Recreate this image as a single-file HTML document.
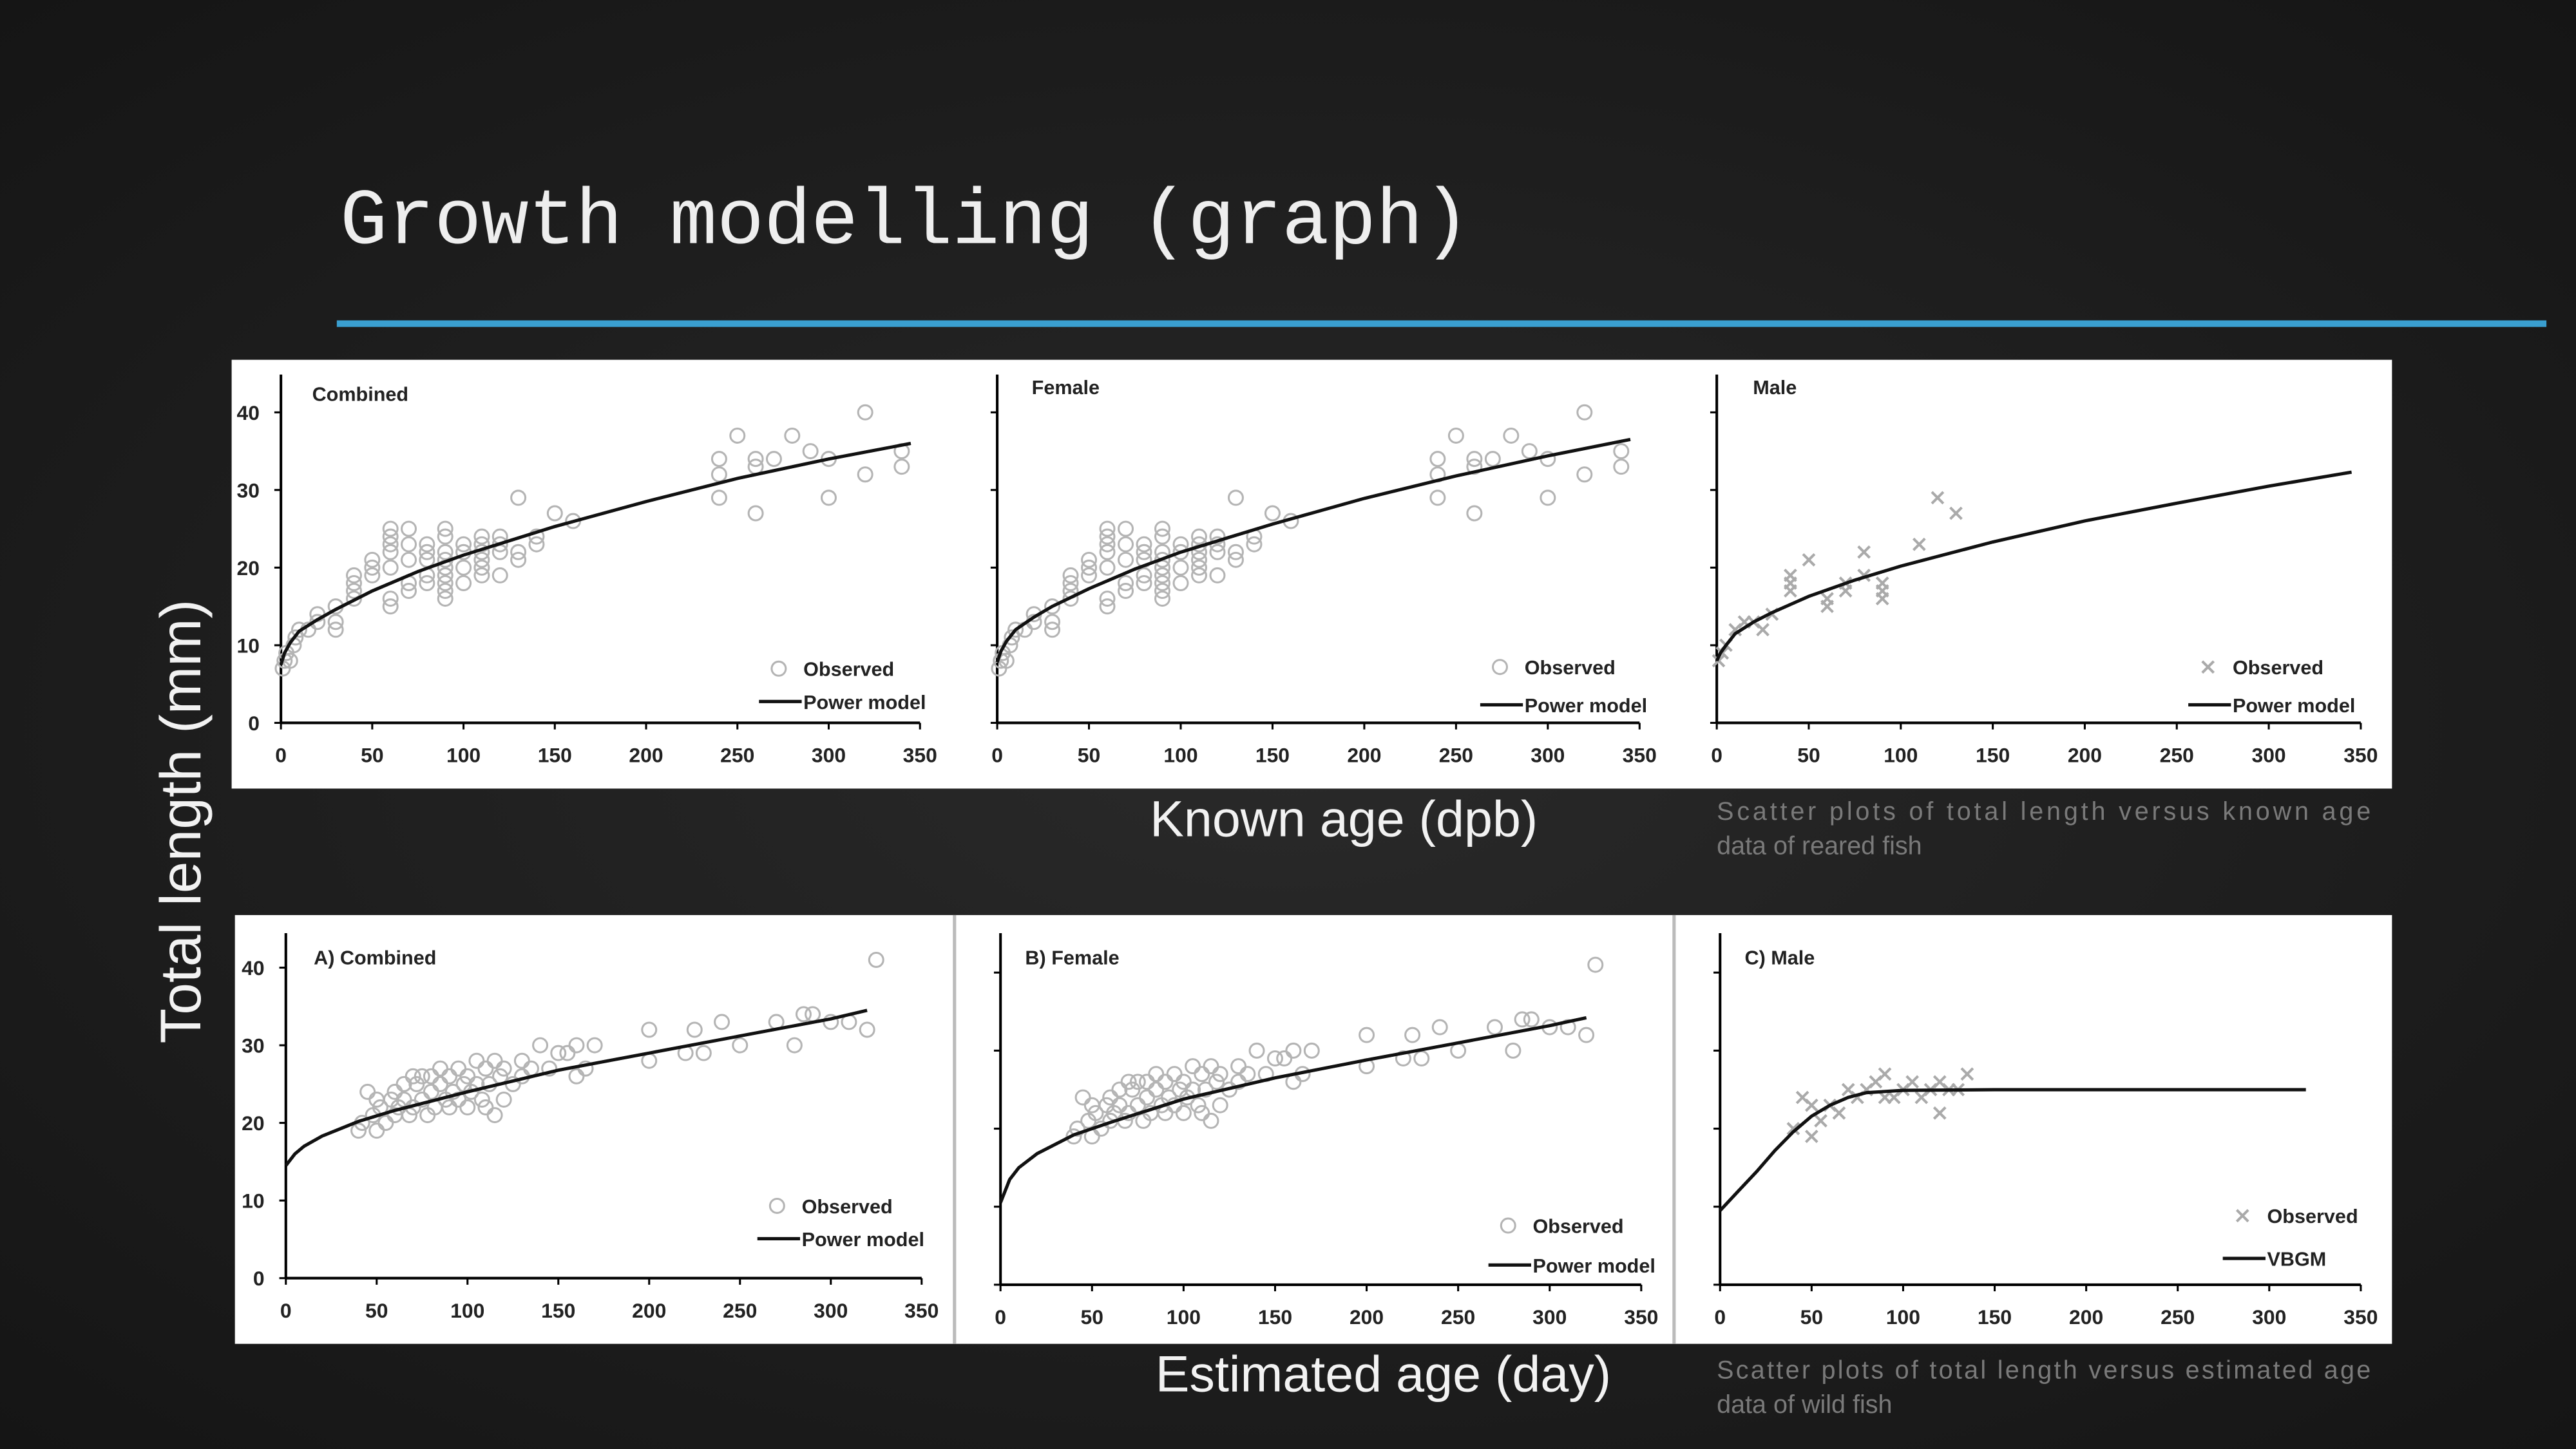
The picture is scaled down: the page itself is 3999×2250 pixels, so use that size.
<!DOCTYPE html>
<html><head><meta charset="utf-8"><style>
html,body{margin:0;padding:0;background:#1e1e1e;}
svg{display:block;}
text{font-family:"Liberation Sans",sans-serif;}
</style></head><body>
<svg id="s" width="3999" height="2250" viewBox="0 0 1568 882" preserveAspectRatio="none" xmlns="http://www.w3.org/2000/svg">
<defs><radialGradient id="bg" cx="50%" cy="50%" r="70%"><stop offset="0" stop-color="#2a2a2a"/><stop offset="1" stop-color="#151515"/></radialGradient></defs>
<rect width="1568" height="882" fill="url(#bg)"/>
<text x="207" y="148" style="font-family:'Liberation Mono',monospace" font-size="48" textLength="688" fill="#eeeeee">Growth modelling (graph)</text>
<rect x="205" y="195" width="1345" height="4" fill="#3a9fd0"/>
<rect x="141" y="219" width="1315" height="261" fill="#fff"/>
<rect x="143" y="557" width="1313" height="261" fill="#fff"/>
<rect x="580" y="557" width="2" height="261" fill="#bbb"/>
<rect x="1018" y="557" width="2" height="261" fill="#bbb"/>
<text transform="translate(122,500) rotate(-90)" text-anchor="middle" font-size="35" fill="#f2f2f2">Total length (mm)</text>
<text x="818" y="509" text-anchor="middle" font-size="31" fill="#f2f2f2">Known age (dpb)</text>
<text x="842" y="847" text-anchor="middle" font-size="31" fill="#f2f2f2">Estimated age (day)</text>
<text x="1045" y="499" font-size="15.5" fill="#7a7a7a" textLength="398">Scatter plots of total length versus known age</text>
<text x="1045" y="520" font-size="15.5" fill="#7a7a7a">data of reared fish</text>
<text x="1045" y="839" font-size="15.5" fill="#7a7a7a" textLength="398">Scatter plots of total length versus estimated age</text>
<text x="1045" y="860" font-size="15.5" fill="#7a7a7a">data of wild fish</text>
<g id="charts"></g>
</svg>
<script>
const xTicks=[0,50,100,150,200,250,300,350];
const yTicks=[0,10,20,30,40];
const topCombinedX=[1,2,3,5,7,8,10,15,20,20,30,30,30,40,40,40,40,50,50,50,60,60,60,60,60,60,60,70,70,70,70,70,80,80,80,80,80,90,90,90,90,90,90,90,90,90,100,100,100,100,110,110,110,110,110,110,120,120,120,120,130,130,130,140,140,150,160,240,240,240,250,260,260,260,270,280,290,300,300,320,320,340,340];
const topCombinedY=[7,8,9,8,10,11,12,12,13,14,12,13,15,16,17,18,19,19,20,21,15,16,20,22,23,24,25,17,18,21,23,25,18,19,21,22,23,16,17,18,19,20,21,22,24,25,18,20,22,23,19,20,21,22,23,24,19,22,23,24,21,22,29,23,24,27,26,29,32,34,37,27,33,34,34,37,35,29,34,32,40,33,35];
const topCurveX=[0,2,5,10,20,30,50,75,100,150,200,250,300,345];
const topCombinedCurveY=[7.5,9,10.3,11.8,13.3,14.6,17,19.5,21.6,25.3,28.5,31.5,34,36];
const topFemaleCurveY=[7.8,9.2,10.5,12,13.6,15,17.3,19.8,22,25.6,28.9,31.8,34.4,36.5];
const topMaleCurveY=[8,9,10,11.5,13,14.2,16.3,18.4,20.2,23.3,26,28.3,30.5,32.3];
const topMaleX=[1,3,5,10,15,20,25,30,40,40,40,50,60,60,70,70,80,80,90,90,90,110,120,130];
const topMaleY=[8,9,10,12,13,13,12,14,17,18,19,21,15,16,17,18,19,22,16,17,18,23,29,27];
const botCombinedX=[40,42,45,48,50,50,52,55,58,60,60,62,65,65,68,70,70,72,75,75,78,80,80,82,85,85,88,90,90,92,95,95,98,100,100,102,105,105,108,110,110,112,115,115,118,120,120,125,130,130,135,140,145,150,155,160,160,165,170,200,200,220,225,230,240,250,270,280,285,290,300,310,320,325];
const botCombinedY=[19,20,24,21,19,23,22,20,23,21,24,22,23,25,21,26,22,25,23,26,21,24,26,22,25,27,23,26,22,24,27,23,25,26,22,24,28,25,23,27,22,25,28,21,26,23,27,25,28,26,27,30,27,29,29,26,30,27,30,28,32,29,32,29,33,30,33,30,34,34,33,33,32,41];
const botCurveX=[0,5,10,20,40,60,100,150,200,250,300,320];
const botCombinedCurveY=[14.5,16,17,18.3,20.2,21.6,24,26.8,29,31.2,33.4,34.5];
const botFemaleCurveY=[10.5,13.5,15,16.8,19.2,20.8,23.8,26.5,28.8,31,33.2,34.2];
const botMaleX=[40,45,50,50,55,60,65,70,75,80,85,90,90,95,100,105,110,115,120,120,125,130,135];
const botMaleY=[20,24,23,19,21,23,22,25,24,25,26,24,27,24,25,26,24,25,22,26,25,25,27];
const vbX=[0,10,20,30,40,50,60,70,80,100,150,200,250,320];
const vbY=[9.5,12,14.5,17.2,19.6,21.6,23,24,24.6,24.9,25,25,25,25];

const NS="http://www.w3.org/2000/svg";
const root=document.getElementById('charts');
function mk(tag,attrs,parent){const e=document.createElementNS(NS,tag);for(const k in attrs)e.setAttribute(k,attrs[k]);(parent||root).appendChild(e);return e;}

function panel(cfg){
  const g=mk('g',{});
  
  
  const sx=v=>cfg.x0+(cfg.x1-cfg.x0)*v/350;
  const sy=v=>cfg.y0-(cfg.y0-cfg.y40)*v/40;
  const yax=mk('line',{x1:sx(0),y1:cfg.y0,x2:sx(0),y2:cfg.top,stroke:'#000','stroke-width':1.6},g);
  
  
  const xax=mk('line',{x1:sx(0),y1:cfg.y0,x2:sx(350),y2:cfg.y0,stroke:'#000','stroke-width':1.6},g);
  
  
  xTicks.forEach(t=>{
    mk('line',{x1:sx(t),y1:cfg.y0,x2:sx(t),y2:cfg.y0+4,stroke:'#000','stroke-width':1.2},g);
    const tl=mk('text',{x:sx(t),y:cfg.y0+24,'text-anchor':'middle','font-size':12.5,'font-weight':'bold',fill:'#222'},g);
    tl.textContent=t;
    
    
  });
  yTicks.forEach(t=>{
    mk('line',{x1:sx(0)-4,y1:sy(t),x2:sx(0),y2:sy(t),stroke:'#000','stroke-width':1.2},g);
    if(cfg.ylabels){
      const tl=mk('text',{x:sx(0)-13,y:sy(t)+4.5,'text-anchor':'end','font-size':12.5,'font-weight':'bold',fill:'#222'},g);
      tl.textContent=t;
      
      
    }
  });
  const ti=mk('text',{x:sx(0)+cfg.tdx,y:cfg.ty,'font-size':12,'font-weight':'bold',fill:'#222'},g);
  ti.textContent=cfg.title;
  
  
  cfg.px.forEach((v,i)=>{
    const X=sx(v),Y=sy(cfg.py[i]);let m;
    if(cfg.cross){m=mk('path',{d:`M${X-3.5},${Y-3.5}L${X+3.5},${Y+3.5}M${X-3.5},${Y+3.5}L${X+3.5},${Y-3.5}`,stroke:'#aaa','stroke-width':1.6},g);}
    else{m=mk('circle',{cx:X,cy:Y,r:4.3,fill:'none',stroke:'#b4b4b4','stroke-width':1.2},g);}
    
    
  });
  const d=cfg.cx.map((v,i)=>(i?'L':'M')+sx(v).toFixed(1)+','+sy(cfg.cy[i]).toFixed(1)).join('');
  const ln=mk('path',{d:d,fill:'none',stroke:'#111','stroke-width':2},g);
  
  
  const lx=sx(0)+cfg.lx,ly=cfg.ly;
  let mark;
  if(cfg.cross){mark=mk('path',{d:`M${lx-3.5},${ly-3.5}L${lx+3.5},${ly+3.5}M${lx-3.5},${ly+3.5}L${lx+3.5},${ly-3.5}`,stroke:'#aaa','stroke-width':1.6},g);}
  else mark=mk('circle',{cx:lx,cy:ly,r:4.3,fill:'none',stroke:'#b4b4b4','stroke-width':1.2},g);
  
  
  const t1=mk('text',{x:lx+15,y:ly+4.5,'font-size':12,'font-weight':'bold',fill:'#222'},g);
  t1.textContent='Observed';
  
  
  mk('line',{x1:lx-12,y1:ly+cfg.lgap,x2:lx+14,y2:ly+cfg.lgap,stroke:'#111','stroke-width':2},g);
  const t2=mk('text',{x:lx+15,y:ly+cfg.lgap+4.5,'font-size':12,'font-weight':'bold',fill:'#222'},g);
  t2.textContent=cfg.model;
  
  
}
panel({name:'chart-top-combined',x0:171,x1:560,y0:440,y40:251,top:228,ylabels:true,title:'Combined',tdx:19,ty:244,px:topCombinedX,py:topCombinedY,cx:topCurveX,cy:topCombinedCurveY,lx:303,ly:407,lgap:20,model:'Power model'});
panel({name:'chart-top-female',x0:607,x1:998,y0:440,y40:251,top:228,ylabels:false,title:'Female',tdx:21,ty:240,px:topCombinedX,py:topCombinedY,cx:topCurveX,cy:topFemaleCurveY,lx:306,ly:406,lgap:23,model:'Power model'});
panel({name:'chart-top-male',x0:1045,x1:1437,y0:440,y40:251,top:228,ylabels:false,title:'Male',tdx:22,ty:240,px:topMaleX,py:topMaleY,cx:topCurveX,cy:topMaleCurveY,lx:299,ly:406,lgap:23,model:'Power model',cross:true});
panel({name:'chart-bottom-combined',x0:174,x1:561,y0:778,y40:589,top:568,ylabels:true,title:'A) Combined',tdx:17,ty:587,px:botCombinedX,py:botCombinedY,cx:botCurveX,cy:botCombinedCurveY,lx:299,ly:734,lgap:20,model:'Power model'});
panel({name:'chart-bottom-female',x0:609,x1:999,y0:782,y40:592,top:568,ylabels:false,title:'B) Female',tdx:15,ty:587,px:botCombinedX,py:botCombinedY,cx:botCurveX,cy:botFemaleCurveY,lx:309,ly:746,lgap:24,model:'Power model'});
panel({name:'chart-bottom-male',x0:1047,x1:1437,y0:782,y40:592,top:568,ylabels:false,title:'C) Male',tdx:15,ty:587,px:botMaleX,py:botMaleY,cx:vbX,cy:vbY,lx:318,ly:740,lgap:26,model:'VBGM',cross:true});
</script>
</body></html>
